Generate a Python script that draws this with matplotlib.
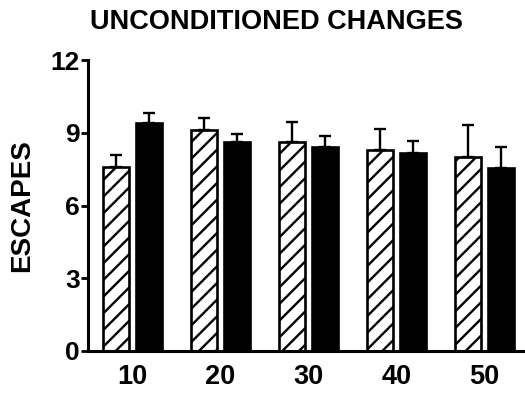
import matplotlib
matplotlib.use("Agg")
import matplotlib.pyplot as plt
import numpy as np

plt.rcParams['font.family'] = ['Liberation Sans', 'DejaVu Sans']
plt.rcParams['hatch.linewidth'] = 1.7

categories = ["10", "20", "30", "40", "50"]
hatched_vals = [7.6, 9.1, 8.6, 8.3, 8.0]
hatched_err = [0.5, 0.5, 0.85, 0.85, 1.3]
solid_vals = [9.4, 8.6, 8.4, 8.15, 7.55]
solid_err = [0.4, 0.35, 0.45, 0.5, 0.85]
yticks = [0, 3, 6, 9, 12]

fig = plt.figure(figsize=(5.25, 3.96), dpi=100)
ax = fig.add_axes([88/525, 45/396, 1 - 88/525, (351-60)/396])

x = np.arange(len(categories))
w = 0.295
off = 0.188

ax.bar(x - off, hatched_vals, width=w, color='white', edgecolor='black',
       linewidth=1.9, hatch='//', zorder=2)
ax.bar(x + off, solid_vals, width=w, color='black', edgecolor='black',
       linewidth=1.9, zorder=2)
ax.errorbar(x - off, hatched_vals, yerr=[np.zeros(len(x)), hatched_err],
            fmt='none', ecolor='black', elinewidth=1.7, capsize=4, capthick=1.7, zorder=3)
ax.errorbar(x + off, solid_vals, yerr=[np.zeros(len(x)), solid_err],
            fmt='none', ecolor='black', elinewidth=1.7, capsize=4, capthick=1.7, zorder=3)

ax.set_xlim(-0.506, 4.46)
ax.set_ylim(0, 12)
ax.set_yticks(yticks)
ax.set_yticklabels([str(v) for v in yticks], fontsize=19, fontweight='bold')
ax.set_xticks(x)
ax.set_xticklabels(categories, fontsize=19.5, fontweight='bold')
ax.tick_params(axis='x', length=0, pad=9)
ax.tick_params(axis='y', length=5, width=2.0, pad=1)

for s in ['top', 'right']:
    ax.spines[s].set_visible(False)
for s in ['left', 'bottom']:
    ax.spines[s].set_linewidth(2.2)

ax.set_ylabel("ESCAPES", fontsize=20, fontweight='bold', labelpad=11)
fig.text(276/525, 1 - 22/396, "UNCONDITIONED CHANGES", fontsize=19.5,
         fontweight='bold', ha='center', va='center')

fig.savefig("out.png", dpi=100)
